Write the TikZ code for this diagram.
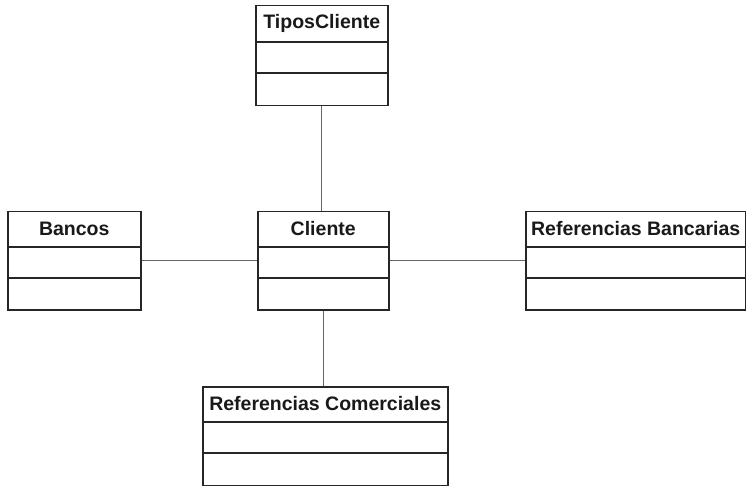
\documentclass[tikz,border=0pt]{standalone}
\usepackage{fontspec}
\setmainfont{Liberation Sans}
\begin{document}
\begin{tikzpicture}[x=1pt,y=1pt,
  classbox/.style={draw=black!85, line width=1.5pt, fill=white, rectangle, inner sep=0pt, anchor=north west},
  classtitle/.style={font=\bfseries\fontsize{19.5}{22}\selectfont, text=black!90, inner sep=0pt, anchor=center},
  sepline/.style={draw=black!85, line width=1.5pt},
  assoc/.style={draw=black!60, line width=0.9pt}]
\useasboundingbox (0,0) rectangle (746,-486);

% class box: name, left x, top y, width, height, title compartment height, title
\newcommand{\umlclass}[7]{%
  \node[classbox, minimum width=#4, minimum height=#5] (#1) at (#2,#3) {};
  \node[classtitle] (#1-title) at ([yshift=-#6/2]#1.north) {#7};
  \draw[sepline] ([yshift=-#6]#1.north west) -- ([yshift=-#6]#1.north east);
  \pgfmathsetmacro\secondsep{#6+31}%
  \draw[sepline] ([yshift=-\secondsep]#1.north west) -- ([yshift=-\secondsep]#1.north east);
}

\umlclass{tipos}{255}{-5}{132pt}{100pt}{37}{TiposCliente}
\umlclass{bancos}{7}{-211}{133pt}{98pt}{36}{Bancos}
\umlclass{cliente}{257}{-211}{131pt}{98pt}{36}{Cliente}
\umlclass{refb}{525}{-211}{220pt}{98pt}{36}{Referencias Bancarias}
\umlclass{refc}{202}{-386}{245pt}{99pt}{36}{Referencias Comerciales}

% associations
\draw[assoc] (tipos.south) -- (tipos.south |- cliente.north);
\draw[assoc] (bancos.east) -- (cliente.west);
\draw[assoc] (cliente.east) -- (refb.west);
\draw[assoc] (cliente.south) -- (cliente.south |- refc.north);
\end{tikzpicture}
\end{document}
